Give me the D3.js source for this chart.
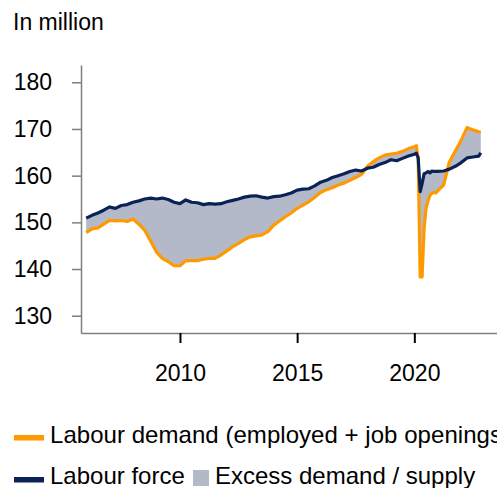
<!DOCTYPE html>
<html>
<head>
<meta charset="utf-8">
<script src="https://cdn.jsdelivr.net/npm/d3@7"></script>
<style>
  body { margin: 0; background: #fff; }
  svg { display: block; font-family: Arial, "Liberation Sans", sans-serif; }
</style>
</head>
<body>
<svg></svg>
<script>
// months of the series (quarterly, monthly around 2020)
const months = [
  '2006-01','2006-04','2006-07','2006-10','2007-01','2007-04','2007-07','2007-10',
  '2008-01','2008-04','2008-07','2008-10','2009-01','2009-04','2009-07','2009-10',
  '2010-01','2010-04','2010-07','2010-10','2011-01','2011-04','2011-07','2011-10',
  '2012-01','2012-04','2012-07','2012-10','2013-01','2013-04','2013-07','2013-10',
  '2014-01','2014-04','2014-07','2014-10','2015-01','2015-04','2015-07','2015-10',
  '2016-01','2016-04','2016-07','2016-10','2017-01','2017-04','2017-07','2017-10',
  '2018-01','2018-04','2018-07','2018-10','2019-01','2019-04','2019-07','2019-10',
  '2020-01','2020-02','2020-03','2020-04','2020-05','2020-06','2020-07','2020-08',
  '2020-09','2020-10','2020-11','2020-12','2021-01','2021-04','2021-07','2021-10',
  '2022-01','2022-04','2022-07','2022-10','2022-11'
];

// labour demand (employed + job openings), million
const demand = [
  147.8,148.6,148.8,149.6,150.4,150.3,150.4,150.2,
  150.7,149.6,148.3,146.0,143.6,142.3,141.6,140.7,
  140.7,141.8,141.8,141.8,142.1,142.3,142.3,143.0,
  143.9,144.8,145.5,146.3,146.9,147.1,147.3,148.0,
  149.4,150.3,151.2,152.0,153.0,153.7,154.4,155.4,
  156.4,157.0,157.4,158.0,158.4,159.0,159.6,160.3,
  162.0,163.0,163.8,164.4,164.6,164.8,165.2,165.8,
  166.2,166.4,163.5,138.3,138.3,148.8,153.0,154.6,
  155.8,156.2,156.4,156.3,156.8,158.0,163.0,165.3,
  167.6,170.3,169.8,169.4,169.3
];

// labour force, million
const force = [
  150.9,151.5,152.0,152.6,153.3,153.0,153.6,153.8,
  154.3,154.6,155.0,155.2,155.0,155.2,154.9,154.3,
  154.0,154.8,154.3,154.2,153.8,154.0,153.9,154.0,
  154.4,154.7,155.0,155.4,155.6,155.7,155.4,155.2,
  155.5,155.6,155.9,156.3,156.9,157.1,157.2,157.8,
  158.6,159.0,159.6,160.0,160.4,160.9,161.2,161.0,
  161.6,161.8,162.4,162.8,163.4,163.2,163.7,164.2,
  164.6,164.8,163.8,156.6,158.3,160.4,160.6,160.9,
  160.6,161.0,160.9,160.9,160.9,161.0,161.4,162.0,
  162.8,163.8,164.0,164.2,164.9
];

const yTicks = [130, 140, 150, 160, 170, 180];
const xTicks = [2010, 2015, 2020];

const width = 497;
const height = 488;

const orange = '#ff9900';
const navy = '#0b2257';
const grey = '#b3b9c8';

const svg = d3.select('svg')
  .attr('width', width)
  .attr('height', height);

const parse = d3.timeParse('%Y-%m');
const values = months.map((m, i) => ({ date: parse(m), d: demand[i], f: force[i] }));

const xScale = d3.scaleTime()
  .domain([new Date(2005, 9, 12), new Date(2023, 6, 12)])
  .range([81, 497]);

const yScale = d3.scaleLinear()
  .domain([126.3, 183.7])
  .range([333, 65]);

// gap between the two lines
svg.append('path')
  .datum(values)
  .attr('fill', grey)
  .attr('d', d3.area()
    .x(item => xScale(item.date))
    .y0(item => yScale(item.f))
    .y1(item => yScale(item.d)));

const line = (key) => d3.line()
  .x(item => xScale(item.date))
  .y(item => yScale(item[key]));

svg.append('path')
  .datum(values)
  .attr('fill', 'none')
  .attr('stroke', orange)
  .attr('stroke-width', 3.2)
  .attr('stroke-linejoin', 'round')
  .attr('d', line('d'));

svg.append('path')
  .datum(values)
  .attr('fill', 'none')
  .attr('stroke', navy)
  .attr('stroke-width', 3.2)
  .attr('stroke-linejoin', 'round')
  .attr('d', line('f'));

// axes
const yAxis = d3.axisLeft(yScale)
  .tickValues(yTicks)
  .tickSize(9)
  .tickSizeOuter(0)
  .tickPadding(20);

const gy = svg.append('g')
  .attr('transform', 'translate(81,0)')
  .call(yAxis);
gy.select('.domain').attr('stroke', '#7f7f7f').attr('stroke-width', 1.5);
gy.selectAll('.tick line').attr('stroke', '#7f7f7f').attr('stroke-width', 1.5);
gy.selectAll('.tick text')
  .attr('font-size', 23)
  .attr('font-family', 'Arial, "Liberation Sans", sans-serif')
  .attr('fill', '#000');

const xAxis = d3.axisBottom(xScale)
  .tickValues(xTicks.map(y => new Date(y, 0, 1)))
  .tickFormat(d3.timeFormat('%Y'))
  .tickSize(10)
  .tickSizeOuter(0)
  .tickPadding(22);

const gx = svg.append('g')
  .attr('transform', 'translate(0,333)')
  .call(xAxis);
gx.select('.domain').attr('stroke', '#7f7f7f').attr('stroke-width', 1.5);
gx.selectAll('.tick line').attr('stroke', '#000').attr('stroke-width', 2);
gx.selectAll('.tick text')
  .attr('font-size', 23)
  .attr('font-family', 'Arial, "Liberation Sans", sans-serif')
  .attr('fill', '#000');

// unit label
svg.append('text')
  .attr('x', 13)
  .attr('y', 30)
  .attr('font-size', 23)
  .text('In million');

// legend
const legend = svg.append('g').attr('font-size', 24);

legend.append('rect')
  .attr('x', 14).attr('y', 435).attr('width', 30).attr('height', 5.5)
  .attr('fill', orange);
legend.append('text')
  .attr('x', 50).attr('y', 443)
  .attr('textLength', 460)
  .attr('lengthAdjust', 'spacing')
  .text('Labour demand (employed + job openings)');

legend.append('rect')
  .attr('x', 14).attr('y', 477).attr('width', 30).attr('height', 5.5)
  .attr('fill', navy);
legend.append('text')
  .attr('x', 50).attr('y', 484)
  .text('Labour force');

legend.append('rect')
  .attr('x', 193).attr('y', 470).attr('width', 16).attr('height', 16)
  .attr('fill', grey);
legend.append('text')
  .attr('x', 215).attr('y', 484)
  .text('Excess demand / supply');
</script>
</body>
</html>
